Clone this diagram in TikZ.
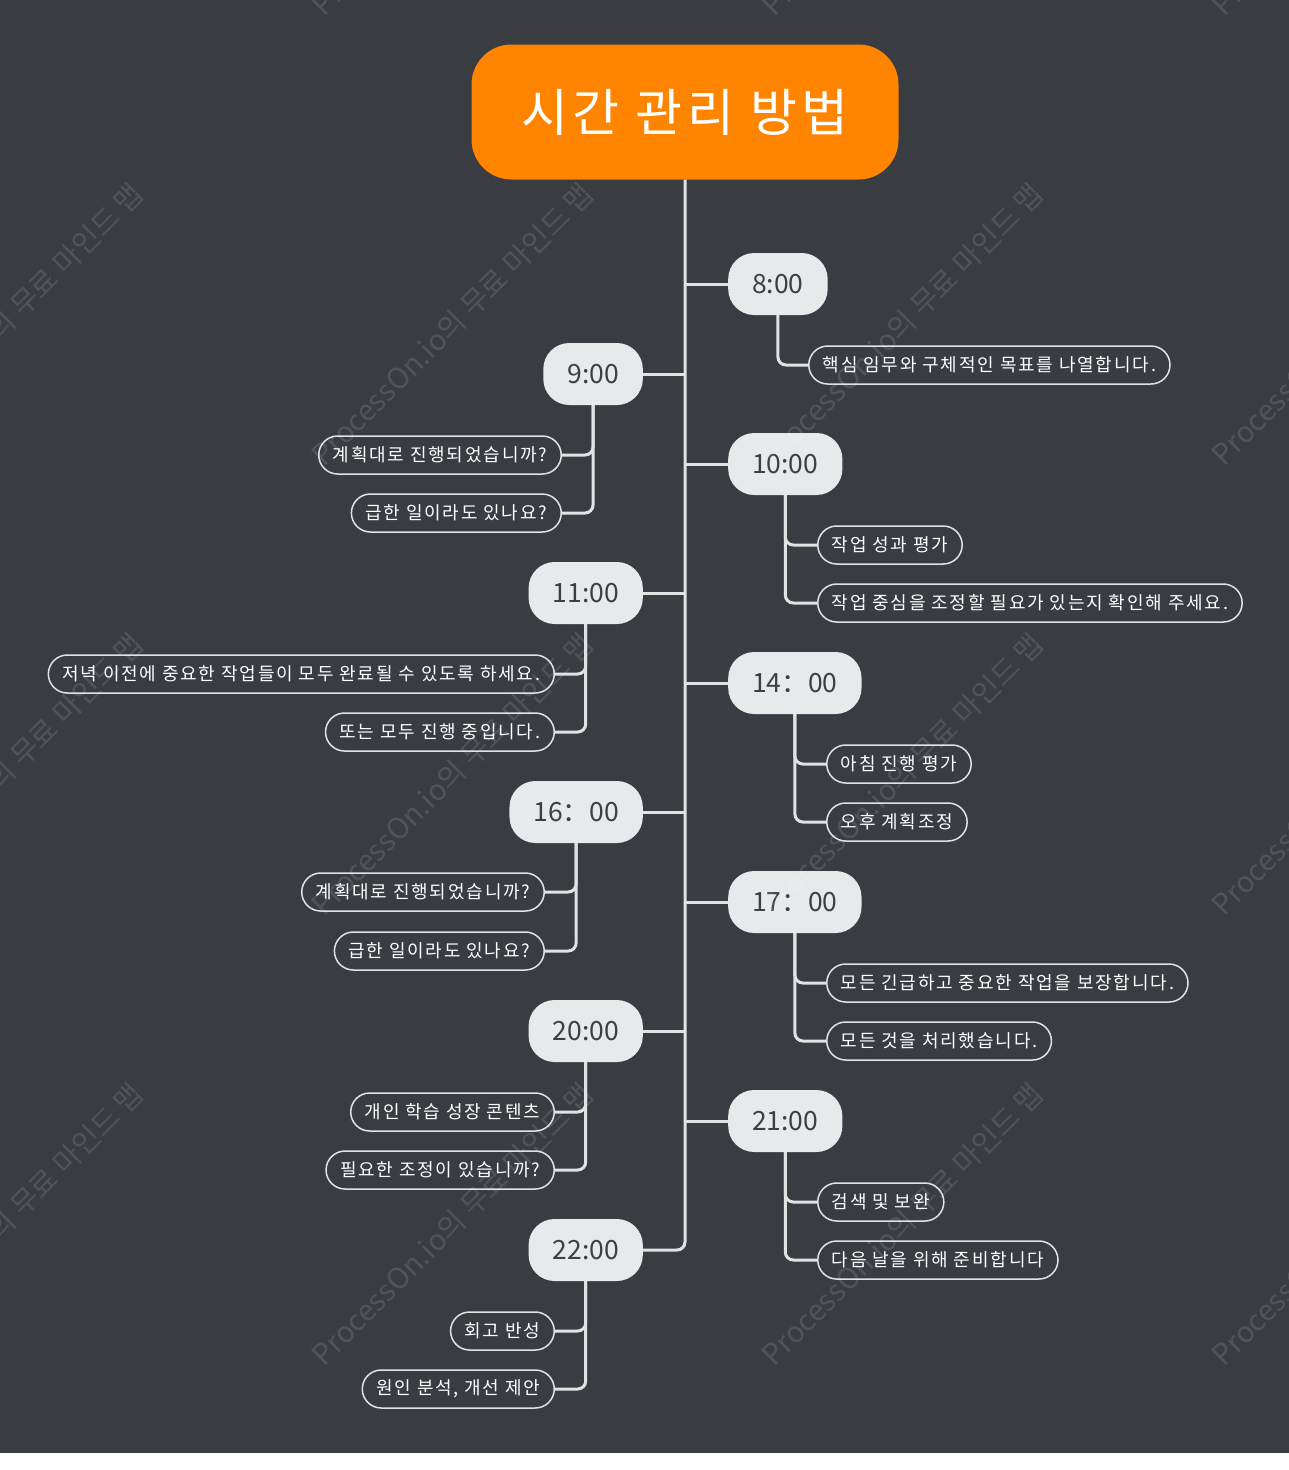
\documentclass[tikz,border=0pt]{standalone}
\usepackage{fontspec}
\setmainfont{Noto Sans CJK KR}
\newfontfamily\titlefont[LetterSpace=9]{Noto Sans CJK KR}
\newfontfamily\leaffont[LetterSpace=10]{Noto Sans CJK KR}
\newfontfamily\colonfont{Noto Sans CJK SC}

\definecolor{bg}{RGB}{57,60,65}
\definecolor{rootorange}{RGB}{255,133,0}
\definecolor{timefill}{RGB}{232,233,235}
\definecolor{timetext}{RGB}{60,63,68}
\definecolor{linegray}{RGB}{226,226,226}

\begin{document}
\begin{tikzpicture}[x=1pt,y=-1pt,
    rootbox/.style={fill=rootorange, rounded corners=40pt, minimum width=427pt, minimum height=135pt, text=white, font=\titlefont\fontsize{51}{60}\selectfont},
    timebox/.style={fill=timefill, rounded corners=26pt, minimum height=62pt, inner xsep=24pt, text=timetext, font=\fontsize{26.5}{30}\selectfont},
    leafbox/.style={draw=linegray, line width=1.5pt, rounded corners=19pt, minimum height=38pt, inner xsep=14pt, text=white, font=\leaffont\fontsize{18}{20}\selectfont},
    branch/.style={draw=linegray, line width=3pt, rounded corners=8pt},
    wmark/.style={text=white, text opacity=0.12, rotate=45, anchor=base west, font=\fontsize{29}{32}\selectfont}]
    \useasboundingbox (0,0) rectangle (1289,1470);
    \fill[white] (0,0) rectangle (1289,1470);
    \fill[bg] (0,0) rectangle (1289,1453);

    \node[rootbox] (root) at (685,112) {시간 관리 방법};

    \node[timebox, anchor=west] (t8) at (728,284) {8:00};
    \node[timebox, anchor=east] (t9) at (643,374) {9:00};
    \node[timebox, anchor=west] (t10) at (728,464) {10:00};
    \node[timebox, anchor=east] (t11) at (643,593) {11:00};
    \node[timebox, anchor=west] (t14) at (728,683) {14{\colonfont ：}00};
    \node[timebox, anchor=east] (t16) at (643,812) {16{\colonfont ：}00};
    \node[timebox, anchor=west] (t17) at (728,902) {17{\colonfont ：}00};
    \node[timebox, anchor=east] (t20) at (643,1031) {20:00};
    \node[timebox, anchor=west] (t21) at (728,1121) {21:00};
    \node[timebox, anchor=east] (t22) at (643,1250) {22:00};

    \node[leafbox, anchor=west] (l8a) at (808,365) {핵심 임무와 구체적인 목표를 나열합니다.};
    \node[leafbox, anchor=east] (l9a) at (562,455) {계획대로 진행되었습니까?};
    \node[leafbox, anchor=east] (l9b) at (562,513) {급한 일이라도 있나요?};
    \node[leafbox, anchor=west] (l10a) at (817,545) {작업 성과 평가};
    \node[leafbox, anchor=west] (l10b) at (817,603) {작업 중심을 조정할 필요가 있는지 확인해 주세요.};
    \node[leafbox, anchor=east] (l11a) at (555,674) {저녁 이전에 중요한 작업들이 모두 완료될 수 있도록 하세요.};
    \node[leafbox, anchor=east] (l11b) at (555,732) {또는 모두 진행 중입니다.};
    \node[leafbox, anchor=west] (l14a) at (826,764) {아침 진행 평가};
    \node[leafbox, anchor=west] (l14b) at (826,822) {오후 계획조정};
    \node[leafbox, anchor=east] (l16a) at (545,892) {계획대로 진행되었습니까?};
    \node[leafbox, anchor=east] (l16b) at (545,951) {급한 일이라도 있나요?};
    \node[leafbox, anchor=west] (l17a) at (826,983) {모든 긴급하고 중요한 작업을 보장합니다.};
    \node[leafbox, anchor=west] (l17b) at (826,1041) {모든 것을 처리했습니다.};
    \node[leafbox, anchor=east] (l20a) at (555,1112) {개인 학습 성장 콘텐츠};
    \node[leafbox, anchor=east] (l20b) at (555,1170) {필요한 조정이 있습니까?};
    \node[leafbox, anchor=west] (l21a) at (817,1202) {검색 및 보완};
    \node[leafbox, anchor=west] (l21b) at (817,1260) {다음 날을 위해 준비합니다};
    \node[leafbox, anchor=east] (l22a) at (555,1331) {회고 반성};
    \node[leafbox, anchor=east] (l22b) at (555,1389) {원인 분석, 개선 제안};

    % trunk
    \draw[branch] (root.south) |- (t22.east);
    \draw[branch] (root.south |- t8.west) -- (t8.west);
    \draw[branch] (root.south |- t9.east) -- (t9.east);
    \draw[branch] (root.south |- t10.west) -- (t10.west);
    \draw[branch] (root.south |- t11.east) -- (t11.east);
    \draw[branch] (root.south |- t14.west) -- (t14.west);
    \draw[branch] (root.south |- t16.east) -- (t16.east);
    \draw[branch] (root.south |- t17.west) -- (t17.west);
    \draw[branch] (root.south |- t20.east) -- (t20.east);
    \draw[branch] (root.south |- t21.west) -- (t21.west);

    % leaves
    \draw[branch] (t8.south) |- (l8a.west);
    \draw[branch] (t9.south) |- (l9a.east);
    \draw[branch] (t9.south) |- (l9b.east);
    \draw[branch] (t10.south) |- (l10a.west);
    \draw[branch] (t10.south) |- (l10b.west);
    \draw[branch] (t11.south) |- (l11a.east);
    \draw[branch] (t11.south) |- (l11b.east);
    \draw[branch] (t14.south) |- (l14a.west);
    \draw[branch] (t14.south) |- (l14b.west);
    \draw[branch] (t16.south) |- (l16a.east);
    \draw[branch] (t16.south) |- (l16b.east);
    \draw[branch] (t17.south) |- (l17a.west);
    \draw[branch] (t17.south) |- (l17b.west);
    \draw[branch] (t20.south) |- (l20a.east);
    \draw[branch] (t20.south) |- (l20b.east);
    \draw[branch] (t21.south) |- (l21a.west);
    \draw[branch] (t21.south) |- (l21b.west);
    \draw[branch] (t22.south) |- (l22a.east);
    \draw[branch] (t22.south) |- (l22b.east);

    % watermark
    \begin{scope}
        \clip (0,0) rectangle (1289,1453);
        \foreach \x in {-128,322,772,1222}
            \foreach \y in {20,470,920,1370}
                \node[wmark] (wm-\x-\y) at (\x,\y) {ProcessOn.io의 무료 마인드 맵};
    \end{scope}
\end{tikzpicture}
\end{document}
